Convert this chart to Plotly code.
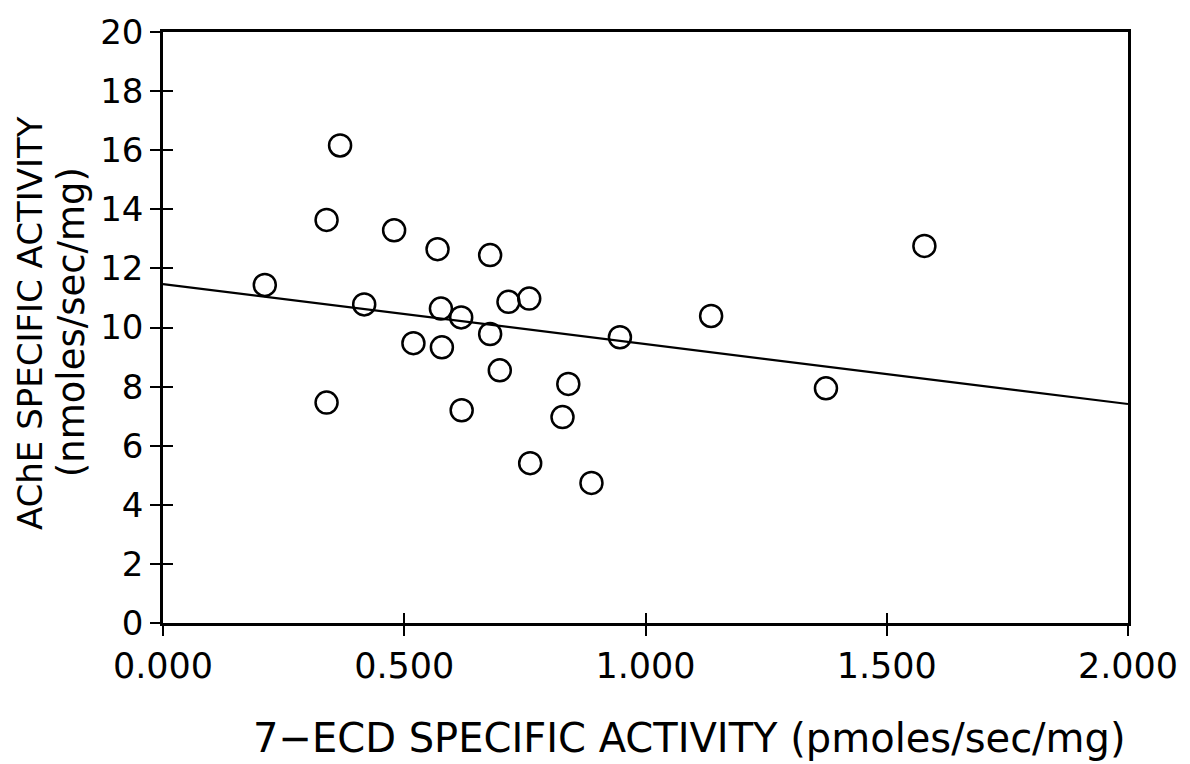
import plotly.graph_objects as go

# Data
ecd = [0.211, 0.367, 0.339, 0.339, 0.479, 0.417, 0.569, 0.576, 0.578, 0.519,
       0.618, 0.619, 0.678, 0.678, 0.716, 0.759, 0.698, 0.761, 0.840, 0.828,
       0.888, 0.947, 1.136, 1.374, 1.578]
ache = [11.44, 16.16, 13.64, 7.46, 13.29, 10.78, 12.65, 10.64, 9.33, 9.47,
        10.34, 7.20, 12.45, 9.78, 10.87, 10.98, 8.55, 5.41, 8.09, 6.97,
        4.74, 9.67, 10.39, 7.94, 12.76]
fit_x = [0.0, 2.0]
fit_y = [11.47, 7.41]
x_ticks = [0.0, 0.5, 1.0, 1.5, 2.0]
y_ticks = [0, 2, 4, 6, 8, 10, 12, 14, 16, 18, 20]

FONT = "DejaVu Sans"
INK = "black"

fig = go.Figure()
fig.add_trace(go.Scatter(
    x=ecd, y=ache, mode="markers",
    marker=dict(symbol="circle-open", size=22, color=INK, line=dict(width=2.5, color=INK)),
    showlegend=False, hoverinfo="skip"))
fig.add_trace(go.Scatter(
    x=fit_x, y=fit_y, mode="lines", line=dict(color=INK, width=2.2),
    xaxis="x2", yaxis="y2", showlegend=False, hoverinfo="skip"))

common = dict(showgrid=False, zeroline=False, linecolor=INK, tickcolor=INK,
              tickwidth=2, ticklen=10)

fig.update_layout(
    width=1190, height=764,
    paper_bgcolor="white", plot_bgcolor="white",
    margin=dict(l=163, r=62, t=24, b=141),
    font=dict(family=FONT, color=INK),
    xaxis=dict(range=[0, 2], tickvals=x_ticks, tickformat=".3f", ticks="outside",
               showline=True, linewidth=2.5, mirror=True,
               tickfont=dict(size=35, family=FONT), **common),
    yaxis=dict(range=[0, 20], tickvals=y_ticks, ticks="outside",
               showline=True, linewidth=2.5, mirror=True,
               tickfont=dict(size=34, family=FONT), **common),
    xaxis2=dict(range=[0, 2], overlaying="x", anchor="y2", side="bottom",
                tickvals=x_ticks, ticks="inside", showticklabels=False,
                showline=False, **common),
    yaxis2=dict(range=[0, 20], overlaying="y", anchor="x2", side="left",
                tickvals=y_ticks, ticks="inside", showticklabels=False,
                showline=False, **common),
    annotations=[
        dict(text="AChE SPECIFIC ACTIVITY", textangle=-90,
             xref="paper", yref="paper", x=-0.1378, y=0.5075,
             xanchor="center", yanchor="middle", showarrow=False,
             font=dict(size=34, family=FONT, color=INK)),
        dict(text="(nmoles/sec/mg)", textangle=-90,
             xref="paper", yref="paper", x=-0.0953, y=0.509,
             xanchor="center", yanchor="middle", showarrow=False,
             font=dict(size=37, family=FONT, color=INK)),
        dict(text="7\u2212ECD SPECIFIC ACTIVITY (pmoles/sec/mg)",
             xref="paper", yref="paper", x=0.546, y=-0.1953,
             xanchor="center", yanchor="middle", showarrow=False,
             font=dict(size=40, family=FONT, color=INK)),
    ],
)

fig.write_html("out.html")
